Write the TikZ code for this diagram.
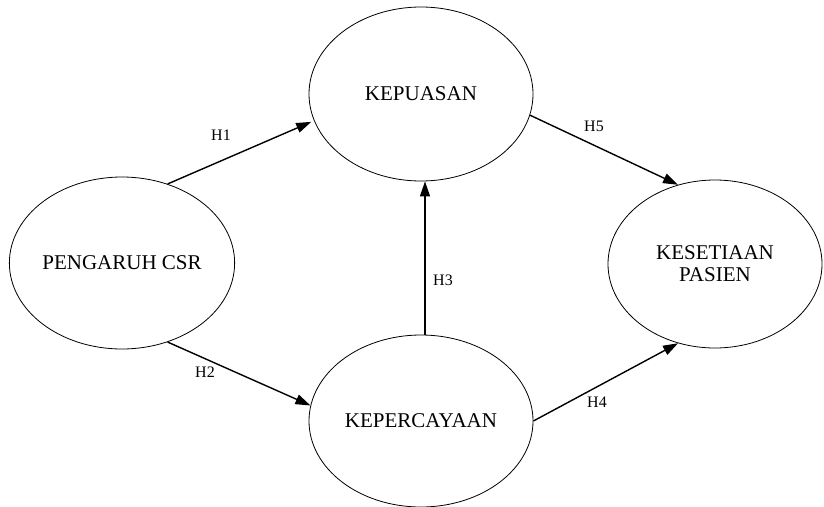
\documentclass[tikz,border=0pt]{standalone}
\usepackage{fontspec}
\setmainfont{Liberation Serif}
\usetikzlibrary{arrows.meta,shapes.geometric}
\begin{document}
\begin{tikzpicture}[x=1pt,y=-1pt,
  var/.style={ellipse,draw,line width=0.8pt,inner sep=0pt,align=center,
    font=\fontsize{21}{22}\selectfont},
  link/.style={line width=1.4pt,-{Triangle[length=15pt,width=10pt]}},
  hlab/.style={font=\fontsize{16}{18}\selectfont}]
\useasboundingbox (0,0) rectangle (824,506);
\node[var,minimum width=222pt,minimum height=172pt] (csr) at (122,263) {PENGARUH CSR};
\node[var,minimum width=224pt,minimum height=174pt] (kep) at (421,94) {KEPUASAN};
\node[var,minimum width=214pt,minimum height=168pt] (ks) at (715,264) {KESETIAAN\\PASIEN};
\node[var,minimum width=224pt,minimum height=172pt] (kc) at (421,421) {KEPERCAYAAN};
\draw[link,shorten >=3pt] (csr.60) -- (kep.194);
\draw[link] (csr.-60) -- (kc.172);
\draw[link] (kep.-11) -- (ks.115);
\draw[link] (kc.0) -- (ks.245);
\draw[link] ([xshift=4pt]kc.north) -- ([xshift=4pt]kep.south);
\node[hlab] (h1) at (221,135) {H1};
\node[hlab] (h2) at (205,372) {H2};
\node[hlab] (h3) at (443,280) {H3};
\node[hlab] (h4) at (597,402) {H4};
\node[hlab] (h5) at (594,126) {H5};
\end{tikzpicture}
\end{document}
